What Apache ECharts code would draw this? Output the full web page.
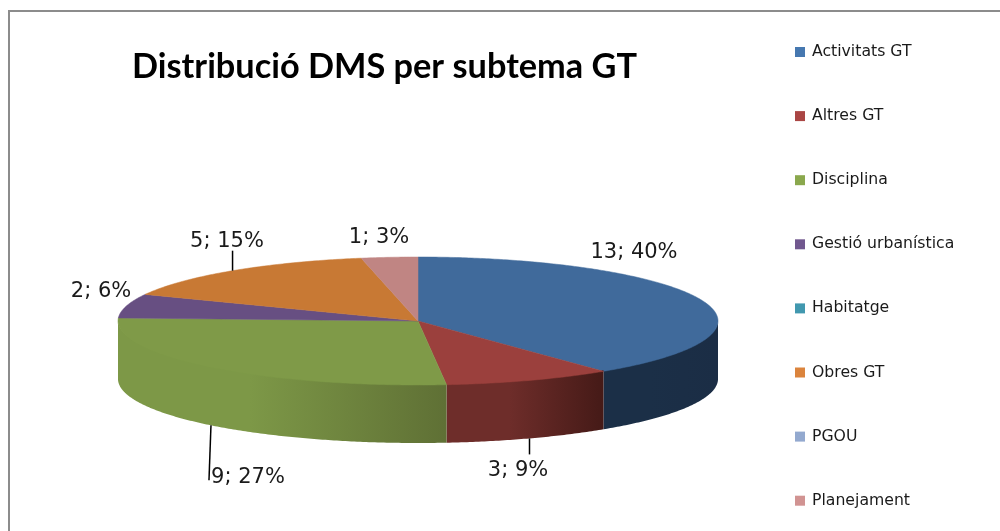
<!DOCTYPE html>
<html>
<head>
<meta charset="utf-8">
<style>
html,body{margin:0;padding:0;background:#fff;}
#chart{width:1000px;height:531px;}
</style>
<script src="https://cdn.jsdelivr.net/npm/echarts@6/dist/echarts.min.js"></script>
</head>
<body>
<div id="chart"></div>
<script>
// dades
var categories = ['Activitats GT','Altres GT','Disciplina','Gestió urbanística','Habitatge','Obres GT','PGOU','Planejament'];
var values = [13,3,9,2,0,5,0,1];
var percents = [40,9,27,6,0,15,0,3];

// colors
var legendColors = ['#4678b0','#aa4644','#8aa84d','#71588f','#4198af','#db843d','#93a9cf','#d19392'];
var topColors = ['#406a9b','#9b403d','#7f9a48','#674f82','#3b8ba0','#c87934','#8499bd','#c08583'];
var sideLeft = {0:'#1b2f47',1:'#6e2d2a',2:'#7d9847'};
var sideRight = {0:'#1b2d45',1:'#451a17',2:'#5f7035'};

// geometria del pastis
var cx = 418, cy = 321, rx = 300, ry = 64, depth = 58;
// posicio del text de cada etiqueta (centre)
var labelPos = {0:[634,253],1:[518,471],2:[248,478],3:[101,292],5:[227,242],7:[379,238]};
// llargada de les linies guia
var guides = {1:16,2:55,5:-20};

var total = values.reduce(function(a,b){return a+b},0);

function pt(t,dy){
	return [cx + rx*Math.sin(t), cy - ry*Math.cos(t) + (dy||0)];
}
function arc(a,b,dy){
	var pts = [], n = Math.max(2,Math.ceil((b-a)/0.01));
	for(var i=0;i<=n;i++){ pts.push(pt(a+(b-a)*i/n,dy)); }
	return pts;
}

function renderSlice(idx){
	return function(params,api){
		var val = api.value(0);
		if(!val) return null;
		var before = 0;
		for(var i=0;i<idx;i++){ before += values[i]; }
		var a = before/total*Math.PI*2;
		var b = (before+val)/total*Math.PI*2;
		var children = [];
		// cara lateral, nomes la part de davant
		var sa = Math.max(a,Math.PI/2), sb = Math.min(b,Math.PI*1.5);
		if(sb>sa){
			// -1 perque quedi sota la cara de dalt i no es vegi la junta
			var front = arc(sa,sb,-1), back = arc(sa,sb,depth).reverse();
			var x1 = Math.min(pt(sa)[0],pt(sb)[0]), x2 = Math.max(pt(sa)[0],pt(sb)[0]);
			children.push({
				type:'polygon',
				shape:{points:front.concat(back)},
				style:{fill:new echarts.graphic.LinearGradient(x1,0,x2,0,[
					{offset:0,color:sideLeft[idx]},{offset:0.4,color:sideLeft[idx]},{offset:1,color:sideRight[idx]}
				],true)}
			});
		}
		// cara de dalt
		children.push({
			type:'polygon',
			shape:{points:[[cx,cy]].concat(arc(a,b,0))},
			style:{fill:topColors[idx],stroke:topColors[idx],lineWidth:0.5}
		});
		// linia guia i etiqueta
		var mid = (a+b)/2, lp = labelPos[idx];
		var isFront = mid>Math.PI/2 && mid<Math.PI*1.5;
		var anchor = pt(mid,isFront?depth:0);
		if(guides[idx]!==undefined){
			children.push({
				type:'line',
				shape:{x1:anchor[0],y1:anchor[1],x2:idx==2?anchor[0]-2:anchor[0],y2:anchor[1]+guides[idx]},
				style:{stroke:'#000',lineWidth:1.5}
			});
		}
		children.push({
			type:'text',
			x:lp[0],y:lp[1],
			style:{
				text:val+'; '+percents[idx]+'%',
				fill:'#1a1a1a',
				font:'21px "DejaVu Sans"',
				align:'center',verticalAlign:'middle'
			}
		});
		return {type:'group',children:children};
	}
}

var series = categories.map(function(name,i){
	return {
		name:name,
		type:'custom',
		coordinateSystem:'none',
		silent:true,
		animation:false,
		itemStyle:{color:legendColors[i]},
		renderItem:renderSlice(i),
		data:[[values[i]]]
	}
});

var myChart = echarts.init(document.getElementById('chart'));
myChart.setOption({
	animation:false,
	backgroundColor:'#fff',
	title:{
		text:'Distribució DMS per subtema GT',
		left:127,top:45,
		textStyle:{fontFamily:'Lato',fontWeight:'bold',fontSize:34.3,color:'#000'}
	},
	legend:{
		orient:'vertical',
		left:790,top:39,
		icon:'rect',
		itemWidth:10,itemHeight:10,
		itemGap:48.1,
		selectedMode:false,
		textStyle:{fontFamily:'DejaVu Sans',fontSize:15.7,lineHeight:16,color:'#1a1a1a',padding:[0,0,0,2]},
		data:categories
	},
	graphic:[{
		type:'polyline',
		shape:{points:[[9,531],[9,11],[1000,11]]},
		style:{stroke:'#8c8c8c',fill:null,lineWidth:2}
	}],
	series:series
});
</script>
</body>
</html>
